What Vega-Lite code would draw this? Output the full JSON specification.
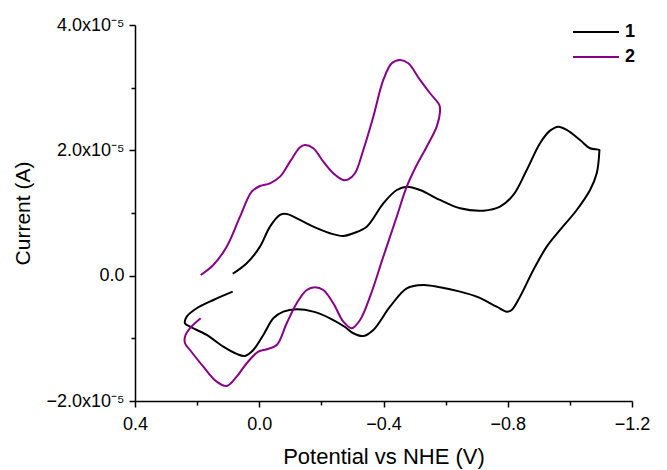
{
  "$schema": "https://vega.github.io/schema/vega-lite/v6.json",
  "width": 497,
  "height": 376,
  "autosize": {"type": "none"},
  "padding": {"left": 135, "top": 25, "right": 35, "bottom": 69},
  "background": "white",
  "config": {
    "view": {"stroke": null},
    "font": "Liberation Sans",
    "axis": {"grid": false, "domainColor": "#000000", "domainWidth": 1.5, "tickColor": "#000000", "tickWidth": 1.5, "labelColor": "#000000", "titleColor": "#000000", "labelFont": "Liberation Sans", "titleFont": "Liberation Sans", "titleFontWeight": "normal"}
  },
  "data": {"values": [
    {"s":"1","i":1,"v":0.0854,"c":0.03e-5},
    {"s":"1","i":2,"v":0.0404,"c":0.198e-5},
    {"s":"1","i":3,"v":-0.0024,"c":0.463e-5},
    {"s":"1","i":4,"v":-0.0346,"c":0.782e-5},
    {"s":"1","i":5,"v":-0.0668,"c":0.969e-5},
    {"s":"1","i":6,"v":-0.0884,"c":0.985e-5},
    {"s":"1","i":7,"v":-0.1312,"c":0.889e-5},
    {"s":"1","i":8,"v":-0.1741,"c":0.782e-5},
    {"s":"1","i":9,"v":-0.2278,"c":0.677e-5},
    {"s":"1","i":10,"v":-0.2706,"c":0.633e-5},
    {"s":"1","i":11,"v":-0.3028,"c":0.677e-5},
    {"s":"1","i":12,"v":-0.346,"c":0.782e-5},
    {"s":"1","i":13,"v":-0.3994,"c":1.155e-5},
    {"s":"1","i":14,"v":-0.4426,"c":1.367e-5},
    {"s":"1","i":15,"v":-0.4748,"c":1.42e-5},
    {"s":"1","i":16,"v":-0.5176,"c":1.367e-5},
    {"s":"1","i":17,"v":-0.582,"c":1.208e-5},
    {"s":"1","i":18,"v":-0.6464,"c":1.075e-5},
    {"s":"1","i":19,"v":-0.7214,"c":1.037e-5},
    {"s":"1","i":20,"v":-0.7751,"c":1.101e-5},
    {"s":"1","i":21,"v":-0.818,"c":1.288e-5},
    {"s":"1","i":22,"v":-0.8611,"c":1.687e-5},
    {"s":"1","i":23,"v":-0.9039,"c":2.113e-5},
    {"s":"1","i":24,"v":-0.9361,"c":2.314e-5},
    {"s":"1","i":25,"v":-0.9629,"c":2.378e-5},
    {"s":"1","i":26,"v":-0.9899,"c":2.325e-5},
    {"s":"1","i":27,"v":-1.0327,"c":2.165e-5},
    {"s":"1","i":28,"v":-1.0649,"c":2.033e-5},
    {"s":"1","i":29,"v":-1.0948,"c":2.006e-5},
    {"s":"1","i":30,"v":-1.0948,"c":1.979e-5},
    {"s":"1","i":31,"v":-1.0865,"c":1.634e-5},
    {"s":"1","i":32,"v":-1.0649,"c":1.367e-5},
    {"s":"1","i":33,"v":-1.0221,"c":1.048e-5},
    {"s":"1","i":34,"v":-0.9683,"c":0.729e-5},
    {"s":"1","i":35,"v":-0.9255,"c":0.463e-5},
    {"s":"1","i":36,"v":-0.8824,"c":0.091e-5},
    {"s":"1","i":37,"v":-0.8395,"c":-0.335e-5},
    {"s":"1","i":38,"v":-0.8128,"c":-0.547e-5},
    {"s":"1","i":39,"v":-0.7967,"c":-0.574e-5},
    {"s":"1","i":40,"v":-0.7645,"c":-0.495e-5},
    {"s":"1","i":41,"v":-0.7001,"c":-0.335e-5},
    {"s":"1","i":42,"v":-0.6464,"c":-0.255e-5},
    {"s":"1","i":43,"v":-0.582,"c":-0.185e-5},
    {"s":"1","i":44,"v":-0.5282,"c":-0.148e-5},
    {"s":"1","i":45,"v":-0.4748,"c":-0.201e-5},
    {"s":"1","i":46,"v":-0.421,"c":-0.495e-5},
    {"s":"1","i":47,"v":-0.3672,"c":-0.866e-5},
    {"s":"1","i":48,"v":-0.335,"c":-0.962e-5},
    {"s":"1","i":49,"v":-0.3028,"c":-0.919e-5},
    {"s":"1","i":50,"v":-0.2761,"c":-0.819e-5},
    {"s":"1","i":51,"v":-0.2278,"c":-0.68e-5},
    {"s":"1","i":52,"v":-0.1741,"c":-0.574e-5},
    {"s":"1","i":53,"v":-0.1206,"c":-0.536e-5},
    {"s":"1","i":54,"v":-0.0775,"c":-0.574e-5},
    {"s":"1","i":55,"v":-0.0453,"c":-0.68e-5},
    {"s":"1","i":56,"v":-0.0131,"c":-0.946e-5},
    {"s":"1","i":57,"v":0.0191,"c":-1.186e-5},
    {"s":"1","i":58,"v":0.0458,"c":-1.281e-5},
    {"s":"1","i":59,"v":0.0726,"c":-1.249e-5},
    {"s":"1","i":60,"v":0.1157,"c":-1.133e-5},
    {"s":"1","i":61,"v":0.1692,"c":-0.946e-5},
    {"s":"1","i":62,"v":0.2229,"c":-0.814e-5},
    {"s":"1","i":63,"v":0.239,"c":-0.76e-5},
    {"s":"1","i":64,"v":0.2335,"c":-0.654e-5},
    {"s":"1","i":65,"v":0.2013,"c":-0.52e-5},
    {"s":"1","i":66,"v":0.1479,"c":-0.388e-5},
    {"s":"1","i":67,"v":0.0854,"c":-0.255e-5},
    {"s":"2","i":1,"v":0.1885,"c":0.011e-5},
    {"s":"2","i":2,"v":0.1479,"c":0.171e-5},
    {"s":"2","i":3,"v":0.1048,"c":0.463e-5},
    {"s":"2","i":4,"v":0.0619,"c":0.941e-5},
    {"s":"2","i":5,"v":0.0243,"c":1.34e-5},
    {"s":"2","i":6,"v":-0.0024,"c":1.431e-5},
    {"s":"2","i":7,"v":-0.0346,"c":1.474e-5},
    {"s":"2","i":8,"v":-0.0668,"c":1.58e-5},
    {"s":"2","i":9,"v":-0.099,"c":1.819e-5},
    {"s":"2","i":10,"v":-0.1312,"c":2.049e-5},
    {"s":"2","i":11,"v":-0.1473,"c":2.085e-5},
    {"s":"2","i":12,"v":-0.1741,"c":2.033e-5},
    {"s":"2","i":13,"v":-0.2063,"c":1.819e-5},
    {"s":"2","i":14,"v":-0.2384,"c":1.634e-5},
    {"s":"2","i":15,"v":-0.2706,"c":1.527e-5},
    {"s":"2","i":16,"v":-0.2867,"c":1.538e-5},
    {"s":"2","i":17,"v":-0.3083,"c":1.634e-5},
    {"s":"2","i":18,"v":-0.335,"c":2.006e-5},
    {"s":"2","i":19,"v":-0.3672,"c":2.537e-5},
    {"s":"2","i":20,"v":-0.3994,"c":3.123e-5},
    {"s":"2","i":21,"v":-0.4265,"c":3.389e-5},
    {"s":"2","i":22,"v":-0.4532,"c":3.442e-5},
    {"s":"2","i":23,"v":-0.4799,"c":3.389e-5},
    {"s":"2","i":24,"v":-0.5176,"c":3.123e-5},
    {"s":"2","i":25,"v":-0.5498,"c":2.911e-5},
    {"s":"2","i":26,"v":-0.5797,"c":2.724e-5},
    {"s":"2","i":27,"v":-0.582,"c":2.617e-5},
    {"s":"2","i":28,"v":-0.5713,"c":2.378e-5},
    {"s":"2","i":29,"v":-0.5392,"c":2.058e-5},
    {"s":"2","i":30,"v":-0.507,"c":1.766e-5},
    {"s":"2","i":31,"v":-0.4748,"c":1.42e-5},
    {"s":"2","i":32,"v":-0.4426,"c":0.941e-5},
    {"s":"2","i":33,"v":-0.3994,"c":0.303e-5},
    {"s":"2","i":34,"v":-0.3566,"c":-0.335e-5},
    {"s":"2","i":35,"v":-0.3244,"c":-0.707e-5},
    {"s":"2","i":36,"v":-0.2977,"c":-0.839e-5},
    {"s":"2","i":37,"v":-0.2706,"c":-0.734e-5},
    {"s":"2","i":38,"v":-0.2384,"c":-0.44e-5},
    {"s":"2","i":39,"v":-0.2063,"c":-0.228e-5},
    {"s":"2","i":40,"v":-0.1795,"c":-0.185e-5},
    {"s":"2","i":41,"v":-0.1528,"c":-0.228e-5},
    {"s":"2","i":42,"v":-0.1206,"c":-0.44e-5},
    {"s":"2","i":43,"v":-0.0884,"c":-0.76e-5},
    {"s":"2","i":44,"v":-0.0562,"c":-1.106e-5},
    {"s":"2","i":45,"v":-0.024,"c":-1.174e-5},
    {"s":"2","i":46,"v":0.003,"c":-1.213e-5},
    {"s":"2","i":47,"v":0.0404,"c":-1.398e-5},
    {"s":"2","i":48,"v":0.0726,"c":-1.612e-5},
    {"s":"2","i":49,"v":0.1048,"c":-1.76e-5},
    {"s":"2","i":50,"v":0.137,"c":-1.691e-5},
    {"s":"2","i":51,"v":0.1801,"c":-1.452e-5},
    {"s":"2","i":52,"v":0.2229,"c":-1.186e-5},
    {"s":"2","i":53,"v":0.239,"c":-1.079e-5},
    {"s":"2","i":54,"v":0.239,"c":-0.973e-5},
    {"s":"2","i":55,"v":0.2229,"c":-0.839e-5},
    {"s":"2","i":56,"v":0.1885,"c":-0.68e-5}
  ]},
  "mark": {"type": "line", "interpolate": "catmull-rom", "strokeWidth": 2},
  "encoding": {
    "x": {
      "field": "v", "type": "quantitative",
      "scale": {"domain": [-1.2, 0.4], "reverse": true, "nice": false, "zero": false},
      "axis": {
        "title": "Potential vs NHE (V)",
        "values": [0.4, 0.2, 0, -0.2, -0.4, -0.6, -0.8, -1.0, -1.2],
        "labelExpr": "abs(round(datum.value*10)) % 4 == 0 ? format(datum.value, '.1f') : ''",
        "tickSize": {"condition": {"test": "abs(round(datum.value*10)) % 4 == 0", "value": 6}, "value": 4},
        "labelFontSize": 18, "titleFontSize": 22, "labelPadding": 8, "titlePadding": 13, "labelFlush": false
      }
    },
    "y": {
      "field": "c", "type": "quantitative",
      "scale": {"domain": [-2e-5, 4e-5], "nice": false, "zero": false},
      "axis": {
        "title": "Current (A)",
        "values": [-2e-5, -1e-5, 0, 1e-5, 2e-5, 3e-5, 4e-5],
        "labelExpr": "abs(round(datum.value*1e5)) % 2 != 0 ? '' : (round(datum.value*1e5) == 0 ? '0.0' : format(datum.value*1e5, '.1f') + 'x10⁻⁵')",
        "tickSize": {"condition": {"test": "abs(round(datum.value*1e5)) % 2 == 0", "value": 6}, "value": 4},
        "labelFontSize": 18, "titleFontSize": 21, "labelPadding": 5, "titlePadding": 12, "labelFlush": false
      }
    },
    "color": {
      "field": "s", "type": "nominal",
      "scale": {"domain": ["1", "2"], "range": ["#000000", "#880088"]},
      "legend": {
        "title": null, "orient": "none", "legendX": 437, "legendY": -3,
        "symbolType": "stroke", "symbolSize": 2116, "symbolStrokeWidth": 2,
        "clipHeight": 20, "rowPadding": 5,
        "labelFontSize": 18, "labelFontWeight": "bold", "labelColor": "#000000", "labelFont": "Liberation Sans",
        "labelOffset": 5
      }
    },
    "order": {"field": "i", "type": "quantitative"}
  }
}
